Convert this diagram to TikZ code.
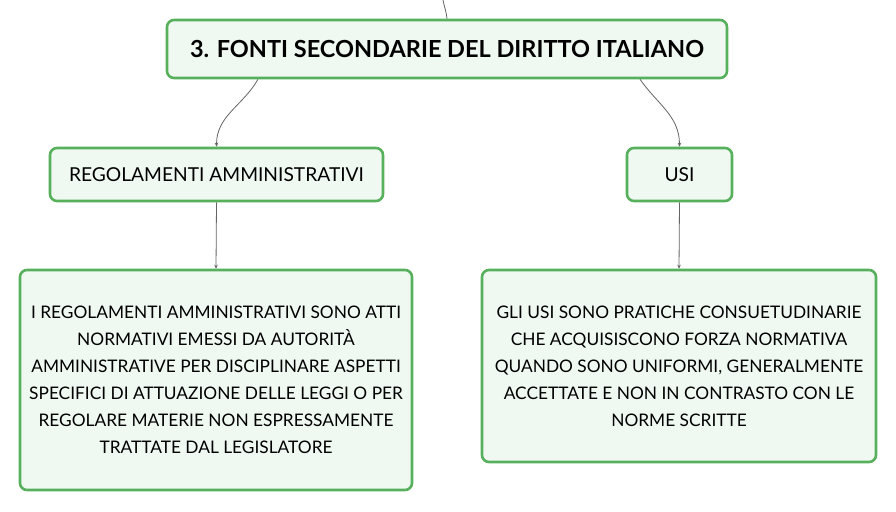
\documentclass[tikz,border=0pt]{standalone}
\usepackage{fontspec}
\setmainfont{Lato}
\usetikzlibrary{arrows.meta}
\definecolor{boxgreen}{RGB}{86,176,92}
\definecolor{boxfill}{RGB}{240,248,242}
\definecolor{conngray}{RGB}{100,100,100}
\tikzset{
  box/.style={draw=boxgreen, fill=boxfill, line width=2.6pt, rounded corners=7pt, align=center, inner sep=0pt, font=\fontsize{17.3}{27}\selectfont},
  conn/.style={draw=conngray, line width=0.8pt, -{Stealth[length=4pt,width=3.5pt]}},
}
\begin{document}
\begin{tikzpicture}[x=1pt,y=-1pt]
\useasboundingbox (0,0) rectangle (896,511);
\node[box, minimum width=560pt, minimum height=58pt, font=\fontsize{23.5}{28}\selectfont\bfseries] (title) at (447,49) {3. FONTI SECONDARIE DEL DIRITTO ITALIANO};
\node[box, minimum width=333pt, minimum height=53pt, font=\fontsize{19.2}{24}\selectfont] (reg) at (216.5,174.5) {REGOLAMENTI AMMINISTRATIVI};
\node[box, minimum width=105pt, minimum height=53pt, font=\fontsize{19.2}{24}\selectfont] (usi) at (679.5,174.5) {USI};
\node[box, minimum width=392pt, minimum height=220pt] (regtxt) at (216,380) {I REGOLAMENTI AMMINISTRATIVI SONO ATTI\\NORMATIVI EMESSI DA AUTORITÀ\\AMMINISTRATIVE PER DISCIPLINARE ASPETTI\\SPECIFICI DI ATTUAZIONE DELLE LEGGI O PER\\REGOLARE MATERIE NON ESPRESSAMENTE\\TRATTATE DAL LEGISLATORE};
\node[box, minimum width=394pt, minimum height=192pt] (usitxt) at (679,366) {GLI USI SONO PRATICHE CONSUETUDINARIE\\CHE ACQUISISCONO FORZA NORMATIVA\\QUANDO SONO UNIFORMI, GENERALMENTE\\ACCETTATE E NON IN CONTRASTO CON LE\\NORME SCRITTE};
\coordinate (in) at (443,0);
\draw[draw=conngray, line width=0.8pt] (in) to[out=-80,in=95] (title.north);
\draw[conn] ([xshift=-189pt]title.south) to[out=-120,in=90] (reg.north);
\draw[conn] ([xshift=193pt]title.south) to[out=-55,in=90] (usi.north);
\draw[conn] (reg.south) -- (regtxt.north);
\draw[conn] (usi.south) -- (usitxt.north);
\end{tikzpicture}
\end{document}
